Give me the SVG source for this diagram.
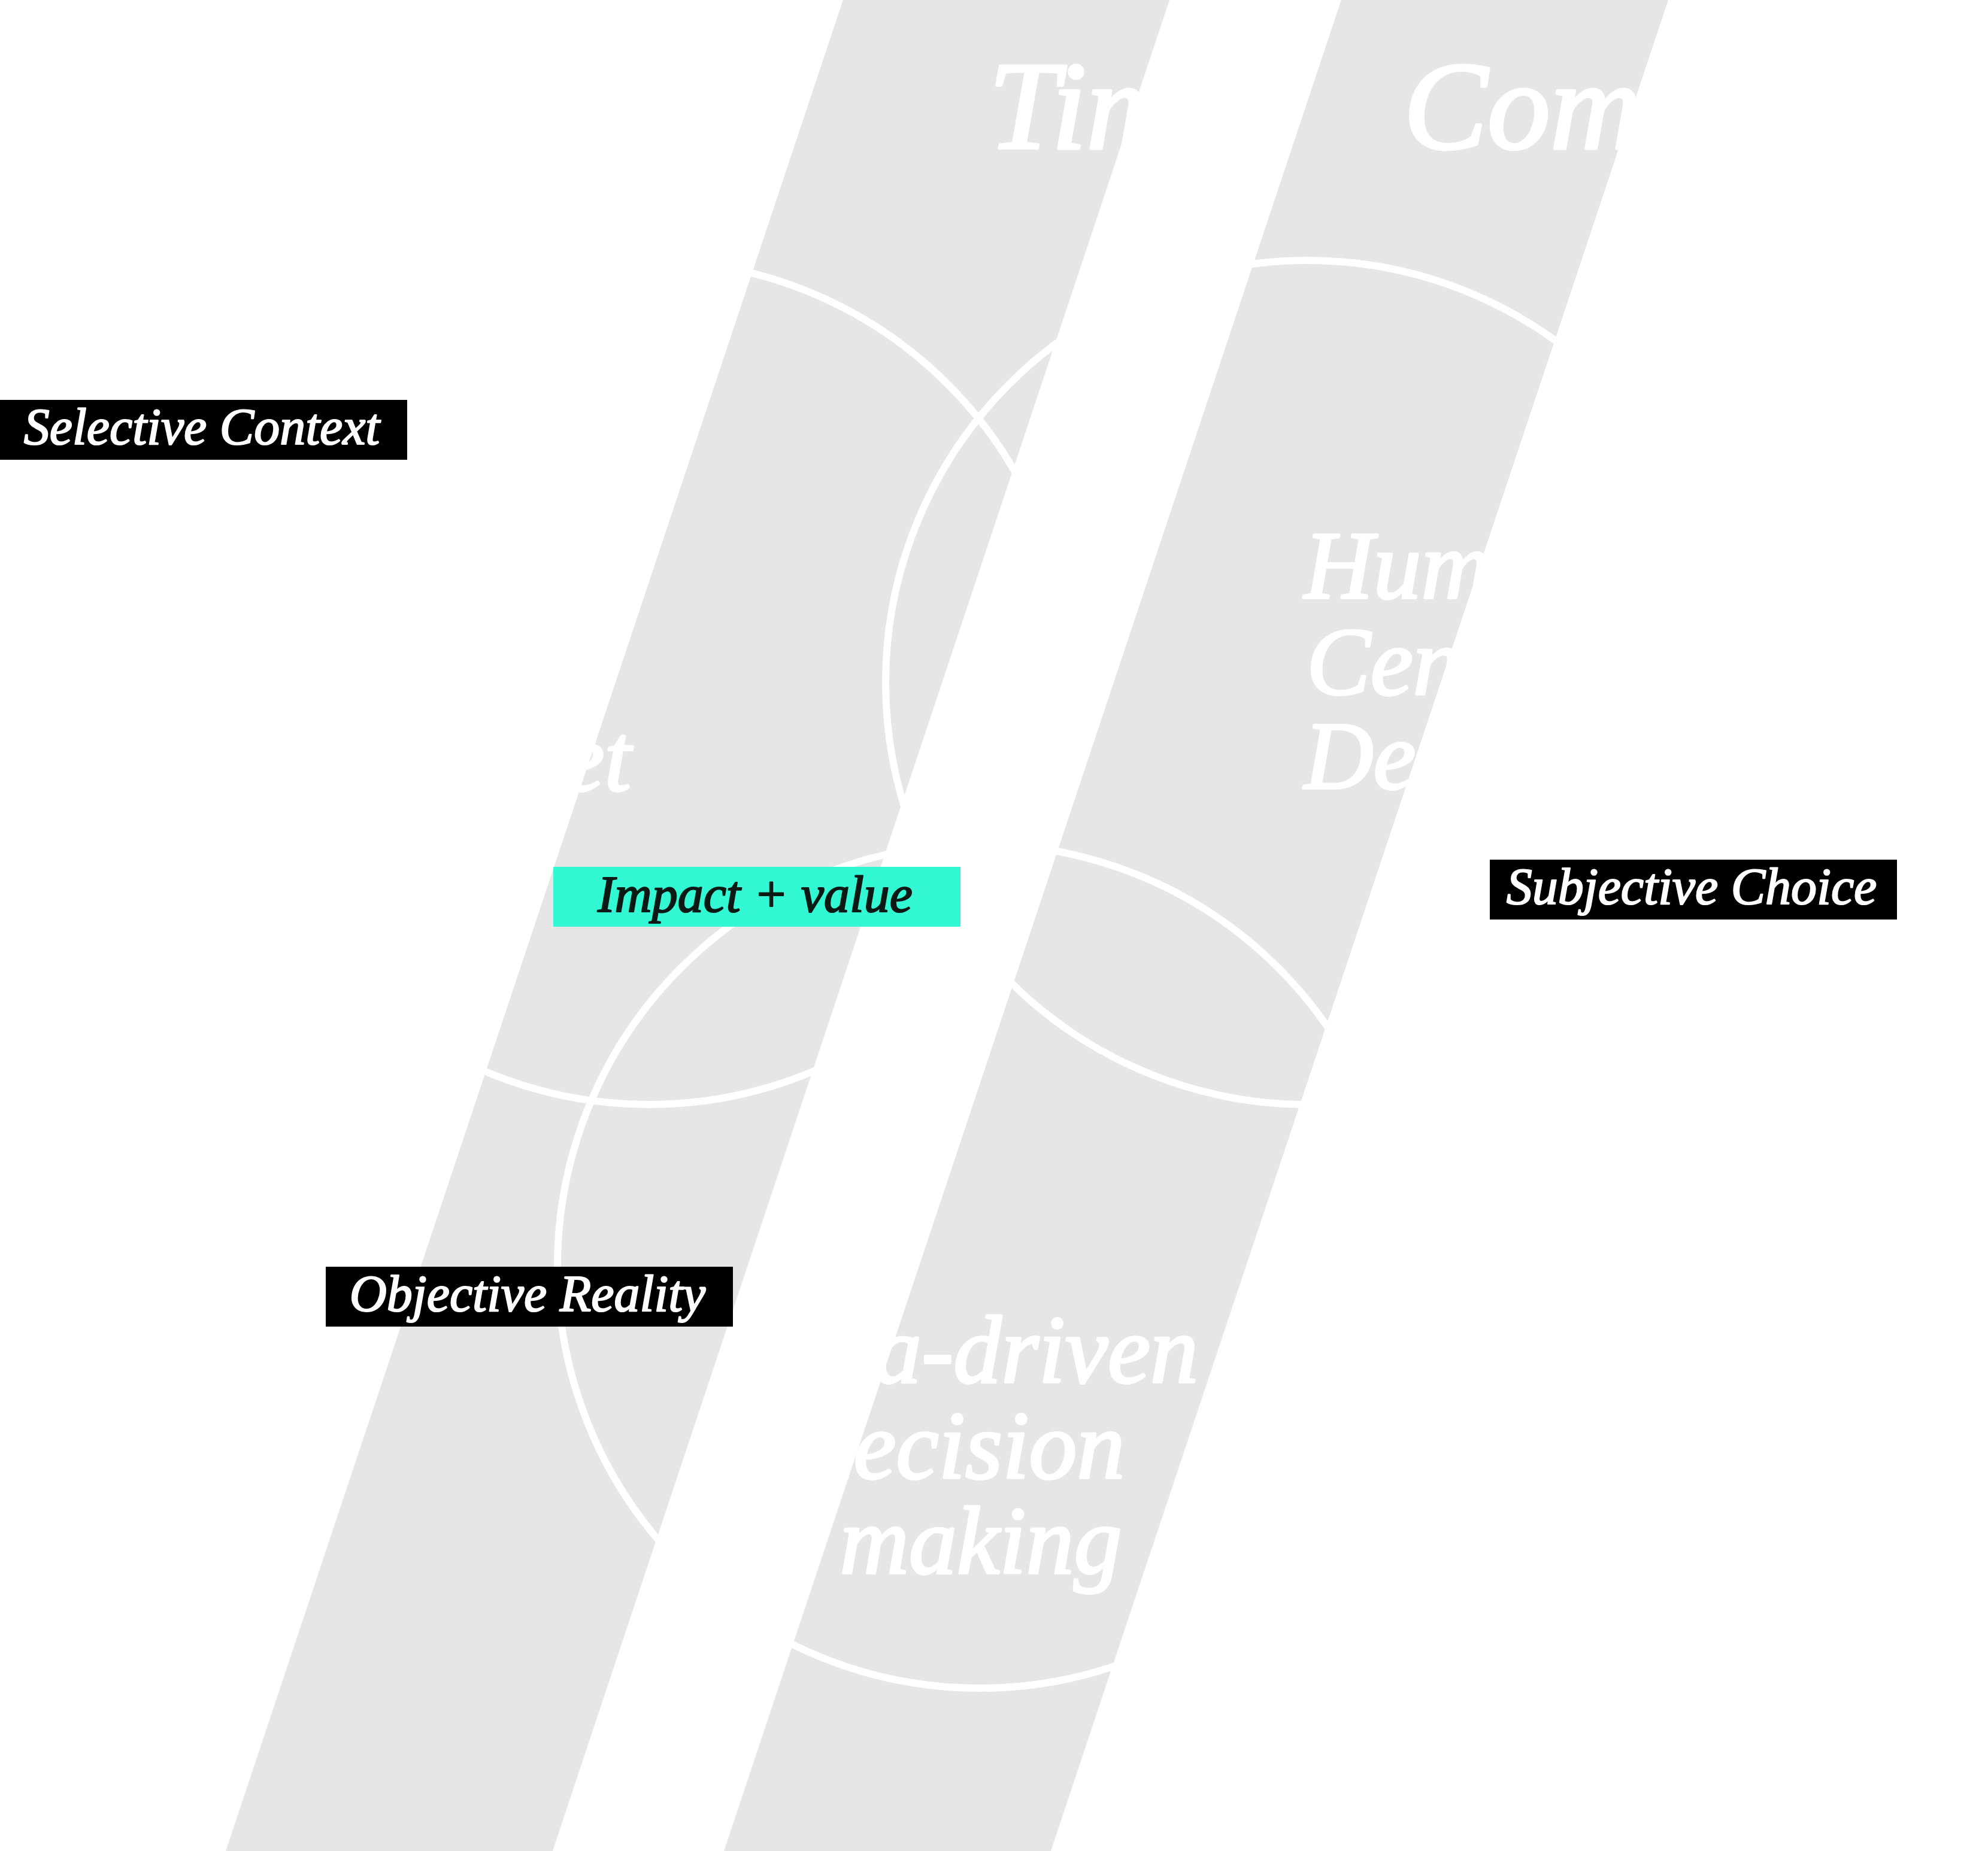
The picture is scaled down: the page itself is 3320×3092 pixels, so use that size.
<svg xmlns="http://www.w3.org/2000/svg" width="3320" height="3092" viewBox="0 0 3320 3092">
  <style>
    .band { fill: #e6e6e6; }
    .ring { fill: none; stroke: #ffffff; stroke-width: 12; }
    .big { font-family: "Liberation Serif", "Times New Roman", serif; font-style: italic; fill: #ffffff; stroke: #ffffff; stroke-linejoin: round; }
    .title { font-size: 210px; stroke-width: 5; }
    .inner { font-size: 160px; stroke-width: 4; }
    .lbl { font-family: "Liberation Serif", "Times New Roman", serif; font-style: italic; font-size: 86px; text-anchor: middle; stroke-width: 2.2; stroke-linejoin: round; }
    .lbl-dark { fill: #000000; }
    .lbl-dark-text { fill: #ffffff; stroke: #ffffff; }
    .lbl-accent { fill: #33f8d4; }
    .lbl-accent-text { fill: #0c1a15; stroke: #0c1a15; }
  </style>
  <rect width="3320" height="3092" fill="#ffffff"/>

  <g id="bands">
    <polygon class="band" points="1408,0 1953,0 923,3092 377,3092"/>
    <polygon class="band" points="2240,0 2786,0 1755,3092 1209,3092"/>
  </g>

  <g id="titles">
    <text class="big title" x="1651" y="248">Time</text>
    <text class="big title" x="2344" y="248">Complexity</text>
  </g>

  <g id="node-systems-thinking">
    <circle class="ring" cx="1084" cy="1140" r="705"/>
    <text class="big inner" text-anchor="end">
      <tspan x="1052" y="1001">Systems</tspan>
      <tspan x="1056" y="1160">Thinking</tspan>
      <tspan x="1054" y="1320">Mindset</tspan>
    </text>
  </g>

  <g id="node-human-centered">
    <circle class="ring" cx="2184" cy="1140" r="705"/>
    <text class="big inner">
      <tspan x="2178" y="999">Human</tspan>
      <tspan x="2182" y="1160">Centered</tspan>
      <tspan x="2178" y="1317">Design</tspan>
    </text>
  </g>

  <g id="node-data-driven">
    <circle class="ring" cx="1636" cy="2115" r="705"/>
    <text class="big inner" text-anchor="middle">
      <tspan x="1630" y="2309">Data-driven</tspan>
      <tspan x="1632" y="2469">decision</tspan>
      <tspan x="1638" y="2628">making</tspan>
    </text>
  </g>

  <g id="label-selective-context">
    <rect class="lbl-dark" x="0" y="668" width="680" height="100"/>
    <text class="lbl lbl-dark-text" x="337" y="742">Selective Context</text>
  </g>

  <g id="label-impact-value">
    <rect class="lbl-accent" x="924" y="1448" width="680" height="100"/>
    <text class="lbl lbl-accent-text" x="1261" y="1523">Impact + value</text>
  </g>

  <g id="label-subjective-choice">
    <rect class="lbl-dark" x="2488" y="1436" width="680" height="100"/>
    <text class="lbl lbl-dark-text" x="2825" y="1510">Subjective Choice</text>
  </g>

  <g id="label-objective-reality">
    <rect class="lbl-dark" x="544" y="2116" width="680" height="100"/>
    <text class="lbl lbl-dark-text" x="881" y="2190">Objective Reality</text>
  </g>
</svg>
